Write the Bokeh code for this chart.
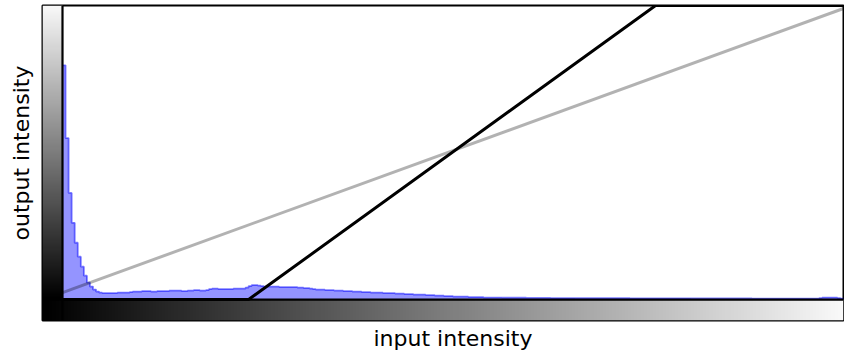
import numpy as np
from bokeh.plotting import figure
from bokeh.models import Range1d, LinearColorMapper, Span, Title
from bokeh.palettes import Greys256
from bokeh.embed import file_html
from bokeh.resources import INLINE

# ---------------- data ----------------
# histogram of input intensities (256 bins over 0..256), heights in axis-pixel units (0..295)
hist_counts = [
    235, 162, 107, 77, 57, 43, 33, 24, 17, 13, 10, 8,
    7, 6.5, 6.5, 6.5, 6.5, 6.5, 7, 7, 7, 7,
    7.5, 8, 8, 8, 8.5, 8.5, 8.5, 8, 8, 8.5, 8.5, 8.5, 8.5, 9,
    9, 9, 9, 8.5, 8.5, 9, 9, 9.5, 9.5, 9, 9, 9.5,
    10.5, 11, 11, 10.5, 10.5, 10.5, 10.5, 10.5, 11, 11, 11, 11,
    12, 13.5, 14.5, 14.5, 14, 13.5, 13,
    13, 13, 13, 13, 12.5, 12.5, 12.5, 12.5, 12.5, 12.5, 12, 12,
    11.5, 11.5, 11, 10.5, 10, 10, 10, 9.5, 9.5, 9.5, 9, 9, 9, 8.5, 8.5, 8.5,
    8, 8, 8, 7.5, 7.5, 7.5, 7, 7, 7, 7, 6.5, 6.5, 6.5, 6.5, 6, 6, 6,
    5.5, 5.5, 5.5, 5, 5, 5, 5, 4.5, 4.5, 4.5, 4, 4, 4, 3.5, 3.5, 3.5,
    3, 3, 3, 3, 3, 2.5, 2.5, 2.5, 2.5, 2.5, 2, 2, 2, 2, 2, 2,
    1.8, 1.8, 1.8, 1.8, 1.8, 1.8, 1.8, 1.8, 1.6, 1.6, 1.6, 1.6, 1.6, 1.6, 1.6, 1.6,
    1.5, 1.5, 1.5, 1.5, 1.5, 1.5, 1.5, 1.5, 1.4, 1.4, 1.4, 1.4, 1.4, 1.4, 1.4, 1.4,
    1.3, 1.3, 1.3, 1.3, 1.3, 1.3, 1.3, 1.3, 1.3, 1.3,
    1.2, 1.2, 1.2, 1.2, 1.2, 1.2, 1.2, 1.2, 1.2, 1.2, 1.2, 1.2, 1.2, 1.2, 1.2, 1.2, 1.2, 1.2, 1.2, 1.2,
    1.1, 1.1, 1.1, 1.1, 1.1, 1.1, 1.1, 1.1, 1.1, 1.1, 1.1, 1.1, 1.1, 1.1, 1.1, 1.1, 1.1, 1.1, 1.1, 1.1,
    1.0, 1.0, 1.0, 1.0, 1.0, 1.0, 1.0, 1.0, 1.0, 1.0, 1.0, 1.0, 1.0, 1.0, 1.0, 1.0, 1.0, 1.0, 1.0, 1.0, 1.0, 1.0,
    1.5, 2, 2, 2, 2, 2, 1.5, 1,
]
hist_edges = list(range(257))

# identity mapping (grey) and contrast-stretch mapping (black): input -> output
identity_in = [0, 256]
identity_out = [6, 252.4]
stretch_in = [0, 61.0, 194.4, 256]
stretch_out = [0, 0, 255, 255]

# gradient levels for the intensity bars
levels = list(range(256))

# ---------------- layout ----------------
XMAX = 256
YMAX = 255
main_w_px, main_h_px = 781, 295
bar_px_x, bar_px_y = 20, 21
x_bar = bar_px_x / main_w_px * XMAX
y_bar = bar_px_y / main_h_px * YMAX

p = figure(width=844, height=357, output_backend="svg", toolbar_location=None,
           x_axis_type=None, y_axis_type=None,
           x_range=Range1d(-x_bar, XMAX), y_range=Range1d(-y_bar, YMAX),
           min_border_left=42, min_border_right=1, min_border_top=5, min_border_bottom=36)
p.grid.visible = False
p.outline_line_color = "black"
p.outline_line_width = 2
p.background_fill_color = "white"
p.border_fill_color = "white"
p.extra_y_ranges = {"hist": Range1d(-y_bar / YMAX * 295, 295)}

cmap = LinearColorMapper(palette=Greys256[::-1] if Greys256[0] != "#000000" else Greys256, low=0, high=262)
grad = np.array(levels, dtype=float)
p.image(image=[grad.reshape(-1, 1)], x=-x_bar, y=0, dw=x_bar, dh=YMAX, color_mapper=cmap)
p.image(image=[grad.reshape(1, -1)], x=-x_bar, y=-y_bar, dw=XMAX + x_bar, dh=y_bar, color_mapper=cmap)

# histogram
hx = hist_edges
hy = hist_counts + [hist_counts[-1]]
p.varea_step(x=hx, y1=[0] * len(hx), y2=hy, step_mode="after", fill_color="#0000ff",
             fill_alpha=0.42, y_range_name="hist")
p.step(x=hx, y=hy, mode="after", line_color="#0000ff", line_alpha=0.5, line_width=1.8,
       y_range_name="hist")

# spines
p.add_layout(Span(location=0, dimension="height", line_color="black", line_width=2.2))
p.add_layout(Span(location=0, dimension="width", line_color="black", line_width=2.2))

# mappings
p.line(identity_in, identity_out, line_color="black", line_alpha=0.3, line_width=3)
p.line(stretch_in, stretch_out, line_color="black", line_width=3)

font = "DejaVu Sans"
p.add_layout(Title(text="input intensity", align="left", offset=331, vertical_align="top",
                   standoff=10, text_font=font, text_font_size="22px",
                   text_font_style="normal", text_color="black"), "below")
p.add_layout(Title(text="output intensity", align="left", offset=80, vertical_align="top",
                   standoff=13, text_font=font, text_font_size="22px",
                   text_font_style="normal", text_color="black"), "left")

open("out.html", "w").write(file_html(p, INLINE))
